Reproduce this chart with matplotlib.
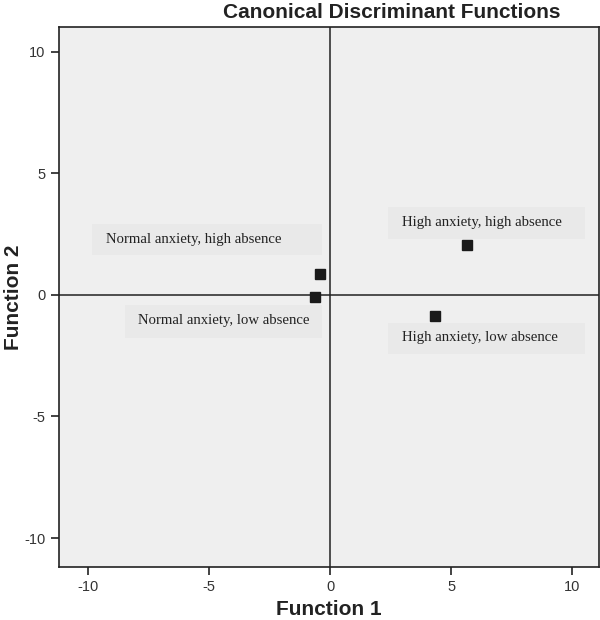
import matplotlib
matplotlib.use("Agg")
import matplotlib.pyplot as plt
from matplotlib.patches import Rectangle

# group centroids on the two discriminant functions
groups = ["Normal anxiety, high absence", "Normal anxiety, low absence",
          "High anxiety, high absence", "High anxiety, low absence"]
f1 = [-0.41, -0.62, 5.66, 4.34]
f2 = [0.87, -0.08, 2.07, -0.87]

# label text (left edge, vertical centre) and the grey box behind it
label_x = [-9.26, -7.93, 2.98, 2.98]
label_y = [2.29, -1.07, 2.99, -1.76]
box_x0 = [-9.81, -8.47, 2.40, 2.40]
box_x1 = [-0.34, -0.34, 10.54, 10.54]
box_y0 = [1.65, -1.78, 2.31, -2.44]
box_y1 = [2.93, -0.41, 3.60, -1.14]

ticks = [-10, -5, 0, 5, 10]
tick_labels = ["-10", "-5", "0", "5", "10"]

plt.rcParams["font.family"] = ["Liberation Sans", "DejaVu Sans"]

fig = plt.figure(figsize=(6, 6.2), dpi=100)
ax = fig.add_axes([0.098, 0.085, 0.9, 0.871])
ax.set_facecolor("#efefef")

ax.axhline(0, color="#222222", lw=1.1, zorder=1)
ax.axvline(0, color="#222222", lw=1.1, zorder=1)

for x0, x1, y0, y1 in zip(box_x0, box_x1, box_y0, box_y1):
    ax.add_patch(Rectangle((x0, y0), x1 - x0, y1 - y0, fc="#e9e9e9", ec="none", zorder=2))

for name, lx, ly in zip(groups, label_x, label_y):
    ax.text(lx, ly, name, ha="left", va="center", fontsize=10.6,
            family="Liberation Serif", color="#222222", zorder=3)

ax.plot(f1, f2, "s", color="#1a1a1a", markersize=7, zorder=4)

ax.set_xlim(-11.2, 11.1)
ax.set_ylim(-11.2, 11.0)
ax.set_xticks(ticks)
ax.set_xticklabels(tick_labels)
ax.set_yticks(ticks)
ax.set_yticklabels(tick_labels)
ax.tick_params(direction="out", length=6, width=1.2, color="#222222",
               labelsize=10.5, labelcolor="#333333")
for s in ax.spines.values():
    s.set_color("#222222")
    s.set_linewidth(1.2)

ax.set_xlabel("Function 1", fontsize=15, fontweight="bold", color="#222222")
ax.set_ylabel("Function 2", fontsize=15, fontweight="bold", color="#222222")
ax.xaxis.set_label_coords(0.5, -0.06)
ax.yaxis.set_label_coords(-0.066, 0.5)
fig.text(0.6525, 0.995, "Canonical Discriminant Functions", ha="center", va="top",
         fontsize=15, fontweight="bold", color="#222222")

fig.savefig("out.png", dpi=100)
